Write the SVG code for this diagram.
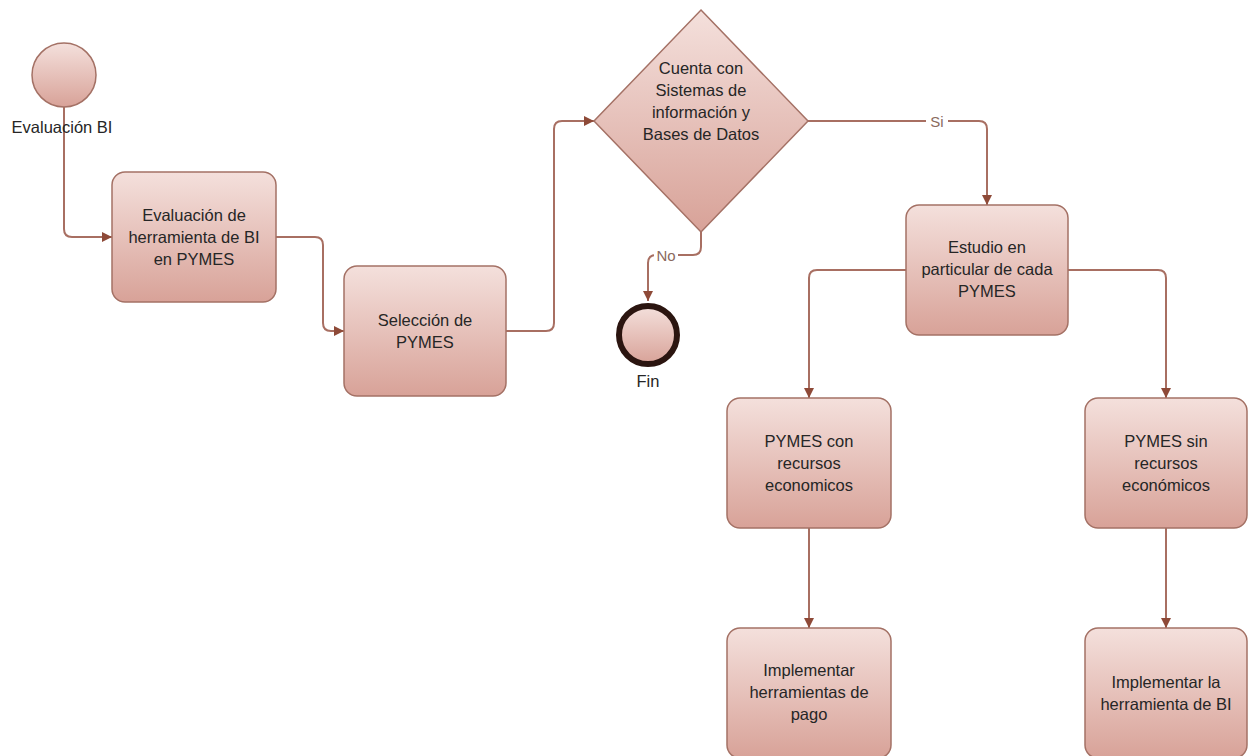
<svg xmlns="http://www.w3.org/2000/svg" width="1250" height="756" viewBox="0 0 1250 756">
<defs>
<linearGradient id="g" x1="0" y1="0" x2="0" y2="1">
<stop offset="0" stop-color="#f4e0dc"/>
<stop offset="1" stop-color="#d8a298"/>
</linearGradient>
<marker id="arr" viewBox="0 0 10 10" refX="10" refY="5" markerWidth="10" markerHeight="10" markerUnits="userSpaceOnUse" orient="auto">
<path d="M0,0 L10,5 L0,10 z" fill="#8e4a38"/>
</marker>
<style>
.box{fill:url(#g);stroke:#a47165;stroke-width:1.5}
.t{font-family:"Liberation Sans",Arial,sans-serif;font-size:16.5px;fill:#262626;text-anchor:middle}
.c{fill:none;stroke:#a86f62;stroke-width:2;marker-end:url(#arr)}
.lbl{font-family:"Liberation Sans",Arial,sans-serif;font-size:15px;fill:#8a6a60;text-anchor:middle}
</style>
</defs>
<rect width="1250" height="756" fill="#ffffff"/>

<g id="connectors">
<path class="c" d="M64,107 V229 Q64,237 72,237 H112"/>
<path class="c" d="M276,237 H315 Q323,237 323,245 V323 Q323,331 331,331 H344"/>
<path class="c" d="M506,331 H546 Q554,331 554,323 V129 Q554,121 562,121 H594"/>
<path class="c" d="M808,121 H979 Q987,121 987,129 V205"/>
<path class="c" d="M701,230 V247 Q701,255 693,255 H656 Q648,255 648,263 V301"/>
<path class="c" d="M906,270 H817 Q809,270 809,278 V398"/>
<path class="c" d="M1068,270 H1158 Q1166,270 1166,278 V398"/>
<path class="c" d="M809,528 V628"/>
<path class="c" d="M1166,528 V628"/>
<rect x="926" y="112" width="22" height="18" fill="#ffffff"/>
<text class="lbl" x="937" y="127">Si</text>
<rect x="654" y="246" width="24" height="18" fill="#ffffff"/>
<text class="lbl" x="666" y="261">No</text>
</g>

<g id="start">
<circle cx="64" cy="75" r="32" fill="url(#g)" stroke="#a47165" stroke-width="1.5"/>
<text class="t" x="62" y="133">Evaluación BI</text>
</g>

<g id="box1">
<rect class="box" x="112" y="172" width="164" height="130" rx="13"/>
<text class="t"><tspan x="194" y="221">Evaluación de</tspan><tspan x="194" y="243">herramienta de BI</tspan><tspan x="194" y="265">en PYMES</tspan></text>
</g>

<g id="box2">
<rect class="box" x="344" y="266" width="162" height="130" rx="13"/>
<text class="t"><tspan x="425" y="326">Selección de</tspan><tspan x="425" y="348">PYMES</tspan></text>
</g>

<g id="decision">
<polygon points="701,10 808,121 701,232 594,121" fill="url(#g)" stroke="#a47165" stroke-width="1.5"/>
<text class="t"><tspan x="701" y="74">Cuenta con</tspan><tspan x="701" y="96">Sistemas de</tspan><tspan x="701" y="118">información y</tspan><tspan x="701" y="140">Bases de Datos</tspan></text>
</g>

<g id="fin">
<circle cx="648" cy="335" r="29" fill="url(#g)" stroke="#2b1510" stroke-width="6"/>
<text class="t" x="648" y="387">Fin</text>
</g>

<g id="estudio">
<rect class="box" x="906" y="205" width="162" height="130" rx="13"/>
<text class="t"><tspan x="987" y="253">Estudio en</tspan><tspan x="987" y="275">particular de cada</tspan><tspan x="987" y="297">PYMES</tspan></text>
</g>

<g id="con">
<rect class="box" x="727" y="398" width="164" height="130" rx="13"/>
<text class="t"><tspan x="809" y="447">PYMES con</tspan><tspan x="809" y="469">recursos</tspan><tspan x="809" y="491">economicos</tspan></text>
</g>

<g id="sin">
<rect class="box" x="1085" y="398" width="162" height="130" rx="13"/>
<text class="t"><tspan x="1166" y="447">PYMES sin</tspan><tspan x="1166" y="469">recursos</tspan><tspan x="1166" y="491">económicos</tspan></text>
</g>

<g id="pago">
<rect class="box" x="727" y="628" width="164" height="130" rx="13"/>
<text class="t"><tspan x="809" y="676">Implementar</tspan><tspan x="809" y="698">herramientas de</tspan><tspan x="809" y="720">pago</tspan></text>
</g>

<g id="bi">
<rect class="box" x="1085" y="628" width="162" height="130" rx="13"/>
<text class="t"><tspan x="1166" y="688">Implementar la</tspan><tspan x="1166" y="710">herramienta de BI</tspan></text>
</g>
</svg>
